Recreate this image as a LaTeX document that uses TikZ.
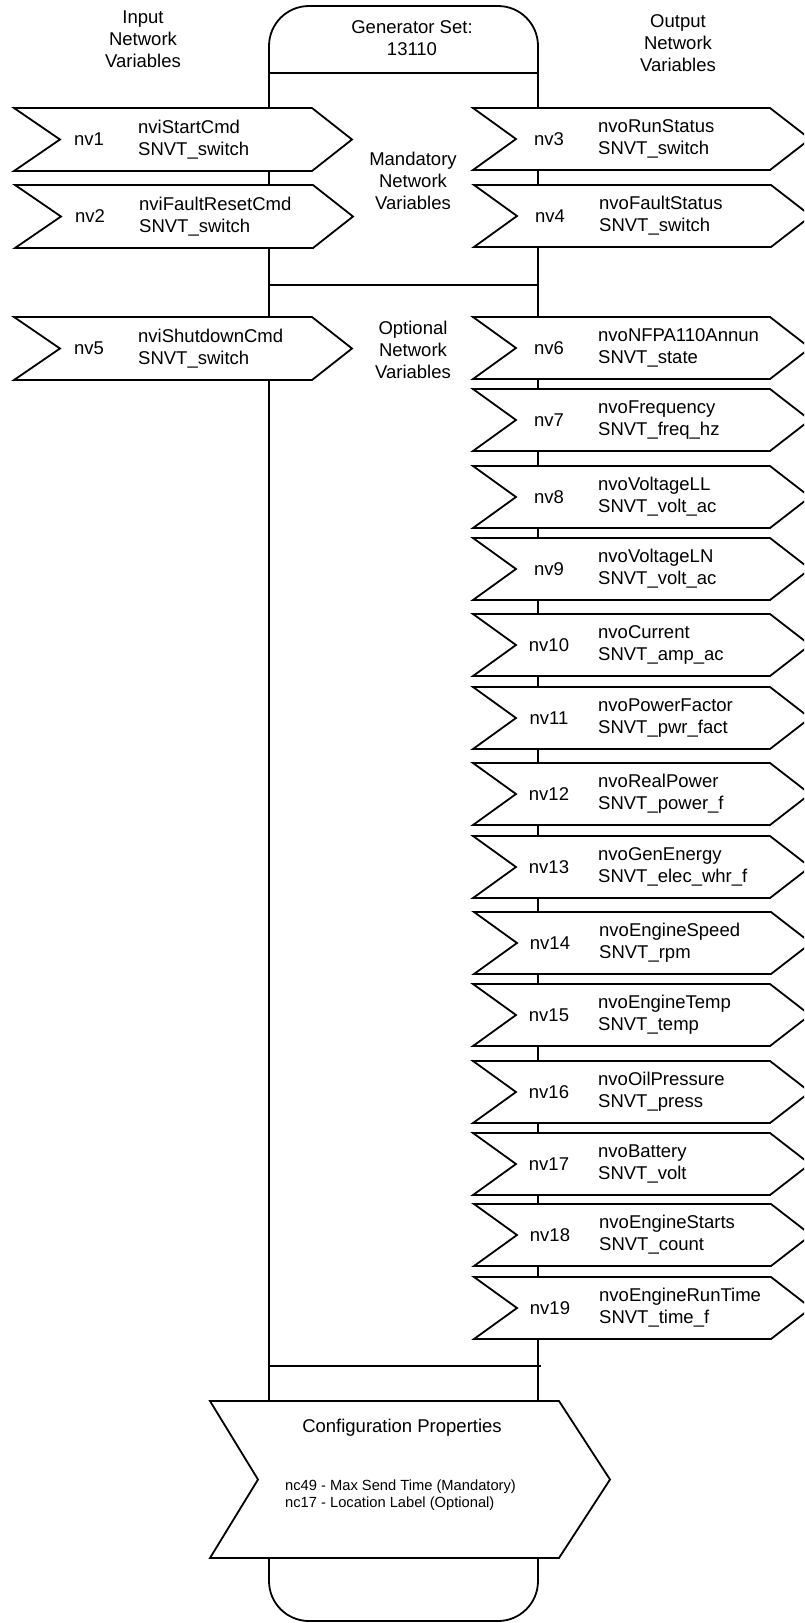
\documentclass[tikz,border=0pt]{standalone}
\usepackage{fontspec}
\setmainfont{Liberation Sans}
\usetikzlibrary{calc}
\tikzset{
  shapeline/.style={draw=black, line width=1.8pt, line join=miter},
  sigfill/.style={shapeline, fill=white},
  nvlbl/.style={inner sep=0pt, font=\fontsize{18.5}{22}\selectfont},
  nvtxt/.style={inner sep=0pt, anchor=west, align=left, font=\fontsize{18.5}{22}\selectfont},
  ctr/.style={inner sep=0pt, align=center, font=\fontsize{18.5}{22}\selectfont},
}
% input signal: name, left x, top y, label, line 1, line 2
\newcommand{\nvin}[6]{%
  \draw[sigfill] (#2,#3) -- ++(298,0) -- ++(40,31.5) -- ++(-40,31.5) -- ++(-298,0) -- ++(46,-31.5) -- cycle;
  \node[nvlbl] (#1) at ($(#2,#3)+(75,31.5)$) {#4};
  \node[nvtxt] (#1n) at ($(#2,#3)+(124,31.5)$) {#5\\#6};
}
% output signal
\newcommand{\nvout}[6]{%
  \draw[sigfill] (#2,#3) -- ++(297,0) -- ++(40,31) -- ++(-40,31) -- ++(-297,0) -- ++(43,-31) -- cycle;
  \node[nvlbl] (#1) at ($(#2,#3)+(76,31)$) {#4};
  \node[nvtxt] (#1n) at ($(#2,#3)+(125,31)$) {#5\\#6};
}
\begin{document}
\begin{tikzpicture}[x=1pt,y=-1pt]
\useasboundingbox (0,0) rectangle (804,1623);
\clip (0,0) rectangle (804,1623);
% main body
\node[shapeline, rounded corners=40pt, minimum width=269pt, minimum height=1615pt, inner sep=0pt, outer sep=0pt] (body) at (403.5,813.5) {};
\coordinate (s1l) at (269,73);   \coordinate (s1r) at (538,73);
\coordinate (s2l) at (269,285);  \coordinate (s2r) at (538,285);
\coordinate (s3l) at (269,1366); \coordinate (s3r) at (541,1366);
\draw[shapeline] (s1l) -- (s1r);
\draw[shapeline] (s2l) -- (s2r);
\draw[shapeline] (s3l) -- (s3r);
% headings
\node[ctr] (inlbl) at (143,39.5) {Input\\Network\\Variables};
\node[ctr] (outlbl) at (678,43.5) {Output\\Network\\Variables};
\node[ctr] (gen) at (412,38.5) {Generator Set:\\13110};
\node[ctr] (mand) at (413,181) {Mandatory\\Network\\Variables};
\node[ctr] (opt) at (413,350) {Optional\\Network\\Variables};
% inputs
\nvin{nv1}{14}{108}{nv1}{nviStartCmd}{SNVT\_switch}
\nvin{nv2}{15}{185}{nv2}{nviFaultResetCmd}{SNVT\_switch}
\nvin{nv5}{14}{317}{nv5}{nviShutdownCmd}{SNVT\_switch}
% outputs
\nvout{nv3}{473}{108}{nv3}{nvoRunStatus}{SNVT\_switch}
\nvout{nv4}{474}{185}{nv4}{nvoFaultStatus}{SNVT\_switch}
\nvout{nv6}{473}{317}{nv6}{nvoNFPA110Annun}{SNVT\_state}
\nvout{nv7}{473}{389}{nv7}{nvoFrequency}{SNVT\_freq\_hz}
\nvout{nv8}{473}{466}{nv8}{nvoVoltageLL}{SNVT\_volt\_ac}
\nvout{nv9}{473}{538}{nv9}{nvoVoltageLN}{SNVT\_volt\_ac}
\nvout{nv10}{473}{614}{nv10}{nvoCurrent}{SNVT\_amp\_ac}
\nvout{nv11}{473}{687}{nv11}{nvoPowerFactor}{SNVT\_pwr\_fact}
\nvout{nv12}{473}{763}{nv12}{nvoRealPower}{SNVT\_power\_f}
\nvout{nv13}{473}{836}{nv13}{nvoGenEnergy}{SNVT\_elec\_whr\_f}
\nvout{nv14}{474}{912}{nv14}{nvoEngineSpeed}{SNVT\_rpm}
\nvout{nv15}{473}{984}{nv15}{nvoEngineTemp}{SNVT\_temp}
\nvout{nv16}{473}{1061}{nv16}{nvoOilPressure}{SNVT\_press}
\nvout{nv17}{473}{1133}{nv17}{nvoBattery}{SNVT\_volt}
\nvout{nv18}{474}{1204}{nv18}{nvoEngineStarts}{SNVT\_count}
\nvout{nv19}{474}{1277}{nv19}{nvoEngineRunTime}{SNVT\_time\_f}
% configuration properties
\draw[sigfill] (210,1401) -- (559,1401) -- (610,1479.5) -- (559,1558) -- (210,1558) -- (258,1479.5) -- cycle;
\node[ctr] (cfgt) at (402,1428) {Configuration Properties};
\node[inner sep=0pt, anchor=west, align=left, font=\fontsize{14.7}{17}\selectfont] (cfgl) at (285,1495.5) {nc49 - Max Send Time (Mandatory)\\nc17 - Location Label (Optional)};
\end{tikzpicture}
\end{document}
